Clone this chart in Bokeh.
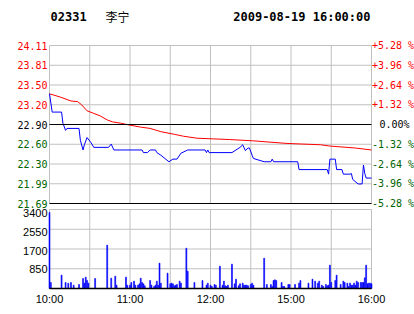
from bokeh.plotting import figure
from bokeh.models import Range1d
from bokeh.core.properties import value
from bokeh.embed import file_html
from bokeh.resources import INLINE

# ---------------- data ----------------
stock_code = "02331"
stock_name = "李宁"
stamp = "2009-08-19 16:00:00"
prev_close = 22.90

price_minutes = [0, 2, 9, 10, 12, 13, 22, 23, 25, 26, 28, 31, 33, 44, 46, 48, 69, 70, 73, 75,
                 79, 80, 83, 89, 92, 95, 98, 103, 116, 117, 118, 119, 136, 139, 142, 144, 146,
                 148, 149, 151, 152, 160, 165, 166, 167, 185, 186, 207, 208, 209, 213, 214, 218,
                 219, 224, 225, 226, 230, 233, 234, 235, 236, 240]
price_values = [23.37, 23.09, 23.09, 22.92, 22.81, 22.84, 22.84, 22.66, 22.51, 22.59, 22.70,
                22.62, 22.55, 22.55, 22.60, 22.51, 22.51, 22.47, 22.47, 22.51, 22.51, 22.47,
                22.43, 22.33, 22.37, 22.37, 22.46, 22.51, 22.51, 22.47, 22.51, 22.47, 22.47,
                22.51, 22.55, 22.59, 22.50, 22.54, 22.54, 22.43, 22.38, 22.33, 22.33, 22.37,
                22.33, 22.33, 22.21, 22.21, 22.14, 22.37, 22.37, 22.21, 22.21, 22.14, 22.14,
                22.15, 22.06, 21.99, 21.99, 22.28, 22.15, 22.08, 22.08]

avg_minutes = [0, 8, 16, 21, 24, 28, 33, 38, 43, 47, 53, 60, 68, 75, 83, 93, 100, 110, 122,
               134, 152, 177, 202, 209, 228, 240]
avg_values = [23.37, 23.32, 23.26, 23.25, 23.20, 23.11, 23.07, 23.03, 22.97, 22.94, 22.92,
              22.89, 22.86, 22.84, 22.79, 22.75, 22.72, 22.69, 22.68, 22.67, 22.65, 22.61,
              22.59, 22.57, 22.54, 22.51]

vol_minutes = [0, 1, 9, 12, 14, 16, 18, 22, 25, 26, 27, 28, 29, 34, 43, 46, 49, 50, 57, 58,
               60, 61, 63, 64, 66, 67, 68, 69, 70, 71, 75, 76, 78, 79, 80, 81, 82, 83, 88, 90,
               91, 92, 93, 94, 95, 97, 98, 102, 103, 108, 114, 117, 118, 120, 121, 123, 124,
               127, 129, 130, 131, 132, 133, 136, 138, 139, 141, 142, 144, 145, 146, 147, 148,
               150, 151, 152, 160, 162, 165, 166, 167, 168, 169, 173, 174, 175, 178, 179, 183,
               186, 187, 193, 196, 198, 200, 201, 203, 204, 206, 207, 208, 209, 210, 213, 214,
               217, 219, 220, 222, 223, 224, 225, 226, 227, 228, 229, 230, 232, 233, 234, 235,
               236, 237, 238, 239, 240]
vol_values = [3270, 258, 575, 258, 230, 258, 144, 172, 430, 230, 488, 344, 230, 430, 1866, 445,
              531, 144, 488, 144, 144, 258, 316, 144, 144, 200, 445, 258, 200, 115, 344, 144,
              86, 144, 316, 144, 1091, 230, 660, 200, 230, 200, 115, 144, 172, 316, 230, 1736,
              746, 258, 344, 144, 230, 144, 86, 172, 144, 961, 144, 316, 115, 86, 144, 1048,
              200, 402, 115, 200, 230, 144, 144, 144, 115, 172, 230, 144, 1306, 172, 172, 86,
              344, 373, 344, 258, 86, 86, 172, 172, 172, 230, 344, 230, 402, 316, 230, 316, 144,
              86, 172, 115, 144, 1005, 258, 344, 574, 172, 316, 258, 230, 86, 230, 144, 144,
              230, 144, 316, 258, 258, 258, 258, 459, 1005, 200, 230, 230, 200]

price_steps = [-4, -3, -2, -1, 0, 1, 2, 3, 4]
step_pct = 0.0132
price_tick_labels = ["21.69", "21.99", "22.30", "22.60", "22.90", "23.20", "23.50", "23.81", "24.11"]
pct_tick_labels = ["-5.28 %", "-3.96 %", "-2.64 %", "-1.32 %", "0.00%", "+1.32 %", "+2.64 %",
                   "+3.96 %", "+5.28 %"]

time_ticks = [0, 30, 60, 90, 120, 150, 180, 210, 240]
time_tick_labels = ["10:00", "", "11:00", "", "12:00", "", "15:00", "", "16:00"]

vol_max = 3400
vol_ticks = [850, 1700, 2550, 3400]
vol_tick_labels = ["850", "1700", "2550", "3400"]

# ---------------- layout (pixels) ----------------
W, H = 414, 314
PL, PR = 49, 371          # plot area left / right
PT, PB = 45, 203          # price panel top / bottom
VT, VB = 209, 288         # volume panel top / bottom

GRID = "#c0c0c0"
RED = "#ff0000"
GREEN = "#006400"
MONO = "DejaVu Sans Mono"
SANS = "Liberation Sans"

t0, t1 = time_ticks[0], time_ticks[-1]
price_ticks = [prev_close * (1 + k * step_pct) for k in price_steps]
lo, hi = price_ticks[0], price_ticks[-1]

# ranges chosen so that the data map onto the panel rectangles of a full-canvas frame
ppx = (t1 - t0) / (PR - PL)
x_rng = Range1d(t0 - PL * ppx, t1 + (W - PR) * ppx)
ypp = (hi - lo) / (PB - PT)
y_rng = Range1d(hi - (H - PT) * ypp, hi + PT * ypp)
vpp = vol_max / (VB - VT)
v_rng = Range1d(-(H - VB) * vpp, VB * vpp)

p = figure(width=W, height=H, x_range=x_rng, y_range=y_rng, toolbar_location=None,
           output_backend="svg", min_border=0, x_axis_location=None, y_axis_location=None,
           outline_line_color=None, background_fill_color="white", border_fill_color="white")
p.grid.visible = False
p.extra_y_ranges = {"vol": v_rng}

n_t = len(time_ticks)
n_p = len(price_ticks)
n_v = len(vol_ticks)

# ---- price panel grid ----
p.segment(x0=time_ticks, y0=[lo] * n_t, x1=time_ticks, y1=[hi] * n_t, line_color=GRID, line_width=1)
grid_prices = [v for k, v in zip(price_steps, price_ticks) if k != 0 and k != price_steps[0]]
p.segment(x0=[t0] * len(grid_prices), y0=grid_prices, x1=[t1] * len(grid_prices), y1=grid_prices,
          line_color=GRID, line_width=1)

# ---- volume panel grid ----
p.segment(x0=time_ticks, y0=[0] * n_t, x1=time_ticks, y1=[vol_max] * n_t, line_color=GRID,
          line_width=1, y_range_name="vol")
p.segment(x0=[t0] * n_v, y0=vol_ticks, x1=[t1] * n_v, y1=vol_ticks, line_color=GRID,
          line_width=1, y_range_name="vol")

# ---- volume bars ----
p.vbar(x=vol_minutes, top=vol_values, bottom=0, width=0.7, fill_color="blue", line_color="blue",
       line_width=0.6, y_range_name="vol")

# ---- price lines ----
p.line(avg_minutes, avg_values, line_color=RED, line_width=1)
p.line(price_minutes, price_values, line_color="blue", line_width=1)

# black reference lines
p.segment(x0=[t0, t0], y0=[prev_close, lo], x1=[t1, t1], y1=[prev_close, lo],
          line_color="black", line_width=1)
p.segment(x0=[t0], y0=[0], x1=[t1], y1=[0], line_color="black", line_width=1.5,
          y_range_name="vol")

# ---- tick labels ----
def col_for(k):
    return RED if k > 0 else ("black" if k == 0 else GREEN)

colors = [col_for(k) for k in price_steps]
p.text(x=[t0] * n_p, y=price_ticks, text=price_tick_labels, text_color=colors, x_offset=-2,
       text_align="right", text_baseline="middle", text_font=value(MONO),
       text_font_size="10px")
p.text(x=[t1] * n_p, y=price_ticks, text=pct_tick_labels, text_color=colors,
       x_offset=[8 if k == 0 else 0.5 for k in price_steps],
       text_align="left", text_baseline="middle", text_font=value(MONO),
       text_font_size="10px")

p.text(x=[t0] * n_v, y=vol_ticks, text=vol_tick_labels, text_color="black", x_offset=-2,
       y_offset=[i + 0.5 for i in range(n_v)], text_align="right", text_baseline="middle",
       text_font=value(SANS), text_font_size="11px", y_range_name="vol")

lab_t = [t for t, s in zip(time_ticks, time_tick_labels) if s]
lab_s = [s for s in time_tick_labels if s]
p.text(x=lab_t, y=[0] * len(lab_t), text=lab_s, text_color="black", y_offset=4,
       text_align="center", text_baseline="top", text_font=value(SANS),
       text_font_size="11px", y_range_name="vol")

# ---- header ----
p.text(x=[t0], y=[hi], text=[stock_code], x_offset=1, y_offset=-29, text_color="black",
       text_align="left", text_baseline="middle", text_font=value(MONO),
       text_font_style="bold", text_font_size="12px")
p.text(x=[t0], y=[hi], text=[stock_name], x_offset=56, y_offset=-29, text_color="black",
       text_align="left", text_baseline="middle", text_font=value("Noto Sans CJK SC"),
       text_font_size="12px")
p.text(x=[t1], y=[hi], text=[stamp], x_offset=-1, y_offset=-29, text_color="black",
       text_align="right", text_baseline="middle", text_font=value(MONO),
       text_font_style="bold", text_font_size="12px")

open("out.html", "w").write(file_html(p, INLINE))
